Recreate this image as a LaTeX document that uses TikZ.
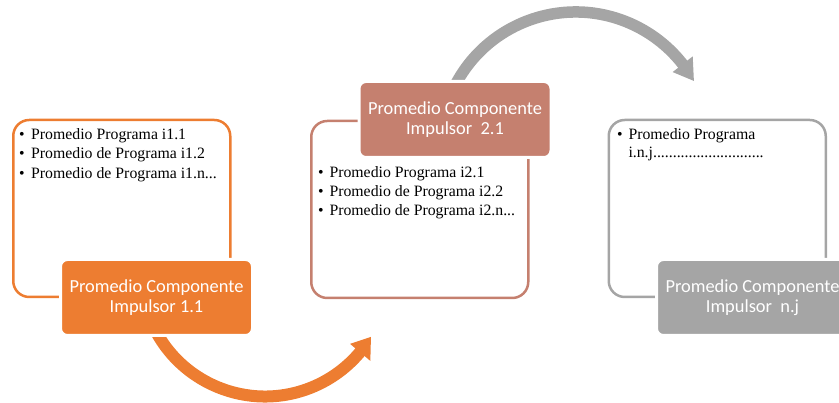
\documentclass[tikz,border=0pt]{standalone}
\usepackage{fontspec}
\setmainfont{Liberation Serif}
\newfontfamily\calib{Carlito}
\definecolor{orangeC}{HTML}{ED7D31}
\definecolor{brownC}{HTML}{C5806F}
\definecolor{grayC}{HTML}{A5A5A5}
\begin{document}
\begin{tikzpicture}[x=1pt,y=1pt,
  outline/.style={draw=#1, line width=2.5pt, rounded corners=16pt, minimum width=217pt, minimum height=177pt, inner sep=0pt},
  titlebox/.style={fill=#1, draw=white, line width=3pt, rounded corners=7pt, minimum width=192pt, minimum height=76pt, inner sep=0pt, text=white, font=\calib\fontsize{18.4}{19.7}\selectfont, align=center},
  item/.style={anchor=base west, inner sep=0pt, font=\fontsize{15.8}{19.5}\selectfont},
  band/.style={draw=#1, line width=12pt}
]
\clip (0,0) rectangle (839,403);
\useasboundingbox (0,0) rectangle (839,403);

% curved arrows
\coordinate (o1) at (265,130.5);
\coordinate (o2) at (575.7,255.2);
\draw[band=orangeC] ([shift={(205:124)}]o1) arc[start angle=205, end angle=320.5, radius=124];
\fill[orangeC] ([shift={(320:111)}]o1) -- ([shift={(328.7:124)}]o1) -- ([shift={(320:137.5)}]o1) -- cycle;
\draw[band=grayC, line width=11.5pt] ([shift={(155:135.8)}]o2) arc[start angle=155, end angle=37.5, radius=135.8];
\fill[grayC] ([shift={(38:123)}]o2) -- ([shift={(29.5:135.8)}]o2) -- ([shift={(38:148.5)}]o2) -- cycle;

% outline boxes
\node[outline=orangeC] (box1) at (121.75,194.5) {};
\node[outline=brownC] (box2) at (419.75,193.5) {};
\node[outline=grayC] (box3) at (717.25,194.5) {};

% bullet texts
\node[item] (b1a) at (19,263.7) {\textbullet};
\node[item] (t1a) at (31,263.7) {Promedio Programa i1.1};
\node[item] (b1b) at (19,244.2) {\textbullet};
\node[item] (t1b) at (31,244.2) {Promedio de Programa i1.2};
\node[item] (b1c) at (19,224.7) {\textbullet};
\node[item] (t1c) at (31,224.7) {Promedio de Programa i1.n...};

\node[item] (b2a) at (318,225.7) {\textbullet};
\node[item] (t2a) at (329.3,225.7) {Promedio Programa i2.1};
\node[item] (b2b) at (318,206.3) {\textbullet};
\node[item] (t2b) at (329.3,206.3) {Promedio de Programa i2.2};
\node[item] (b2c) at (318,187) {\textbullet};
\node[item] (t2c) at (329.3,187) {Promedio de Programa i2.n...};

\node[item] (b3a) at (617,263.7) {\textbullet};
\node[item] (t3a) at (628.3,263.7) {Promedio Programa};
\node[item] (t3b) at (628.3,245) {i.n.j............................};

% title boxes
\node[titlebox=orangeC] (h1) at (156.5,105.5) {Promedio Componente\\Impulsor 1.1};
\node[titlebox=brownC] (h2) at (455,283.5) {Promedio Componente\\Impulsor~~2.1};
\node[titlebox=grayC] (h3) at (752.5,105.5) {Promedio Componente\\Impulsor~~n.j};
\end{tikzpicture}
\end{document}
